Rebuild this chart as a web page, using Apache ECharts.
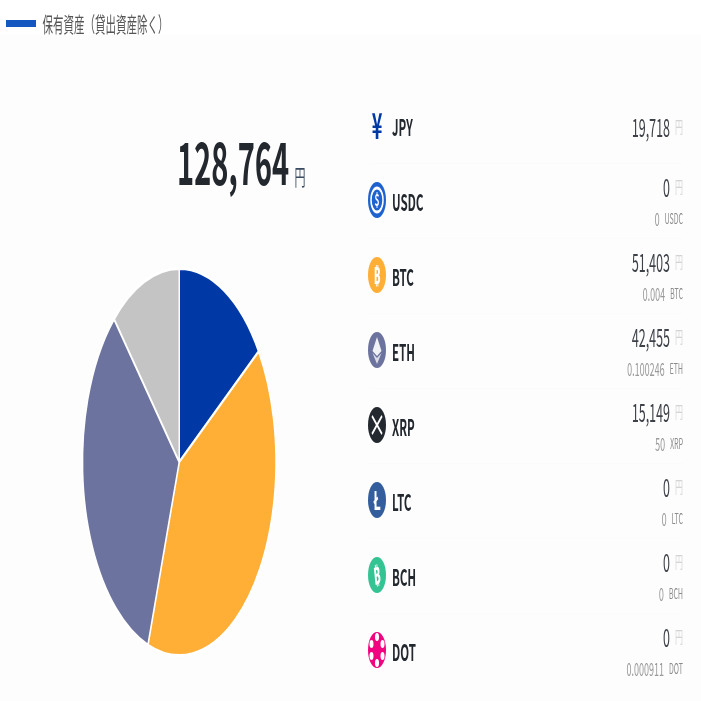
<!DOCTYPE html>
<html><head><meta charset="utf-8">
<style>html,body{margin:0;padding:0;background:#fdfdfd;overflow:hidden;width:701px;height:701px}
#c{width:1402px;height:701px;transform:scale(.5,1);transform-origin:0 0}</style>
<script src="https://cdn.jsdelivr.net/npm/echarts@6/dist/echarts.min.js"></script>
</head><body><div id="c"></div>
<script>
const legendLabel = '保有資産（貸出資産除く）';
const totalLabel = '128,764';
const yenUnit = '円';
const symbols = ['JPY','USDC','BTC','ETH','XRP','LTC','BCH','DOT'];
const jpyValues = [19718,0,51403,42455,15149,0,0,0];
const amountLabels = [null,'0','0.004','0.100246','50','0','0','0.000911'];
const iconColors = ['#0039A6','#1E62D0','#FFAE36','#6C739E','#23292F','#345D9D','#34C393','#F0047F'];
const sliceNames = ['JPY','BTC','ETH','XRP'];
const sliceValues = [19718,51403,42455,15149];
const sliceColors = ['#0039A6','#FFAE36','#6C739E','#C4C4C4'];

const FONT = '"Noto Sans CJK JP","Noto Sans",sans-serif';
const rowY = i => 127 + 75 * i;
const el = [];
const text = (x,y,t,size,color,weight,align='left',vert='middle') =>
  ({type:'text',x,y,silent:true,style:{text:t,fill:color,font:`${weight} ${size}px ${FONT}`,textAlign:align,textVerticalAlign:vert}});

el.push({type:'rect',shape:{x:0,y:0,width:1402,height:35},style:{fill:'#fff'},silent:true});
el.push({type:'rect',shape:{x:12,y:20,width:60,height:7},style:{fill:'#1557C0'},silent:true});
el.push(text(85,24,legendLabel,21,'#555',400));
el.push(text(354,163,totalLabel,58,'#23282E',700));
el.push(text(589,177,yenUnit,22,'#3A4A60',400));

function icon(i,cx,cy){
  const c = iconColors[i], s = symbols[i], out=[];
  if(s==='JPY'){ out.push(text(cx,cy-2,'¥',36,c,700,'center')); return out; }
  out.push({type:'circle',shape:{cx,cy,r:18},style:{fill:c},silent:true});
  if(s==='USDC'){
    out.push({type:'circle',shape:{cx,cy,r:12},style:{fill:'none',stroke:'#fff',lineWidth:3},silent:true});
    out.push(text(cx,cy,'$',17,'#fff',700,'center'));
  } else if(s==='BTC'){
    out.push(text(cx,cy,'₿',24,'#fff',700,'center'));
  } else if(s==='BCH'){
    out.push({...text(0,0,'₿',24,'#fff',700,'center'),x:cx,y:cy,rotation:0.2});
  } else if(s==='ETH'){
    out.push({type:'polygon',shape:{points:[[cx,cy-13],[cx+9,cy+1],[cx,cy+6],[cx-9,cy+1]]},style:{fill:'#fff',opacity:.9},silent:true});
    out.push({type:'polygon',shape:{points:[[cx,cy+8],[cx+9,cy+3],[cx,cy+14],[cx-9,cy+3]]},style:{fill:'#fff',opacity:.75},silent:true});
  } else if(s==='XRP'){
    out.push({type:'polyline',shape:{points:[[cx-10,cy-9],[cx,cy],[cx+10,cy-9]]},style:{fill:'none',stroke:'#fff',lineWidth:3},silent:true});
    out.push({type:'polyline',shape:{points:[[cx-10,cy+9],[cx,cy],[cx+10,cy+9]]},style:{fill:'none',stroke:'#fff',lineWidth:3},silent:true});
  } else if(s==='LTC'){
    out.push(text(cx,cy,'Ł',26,'#fff',700,'center'));
  } else if(s==='DOT'){
    out.push({type:'circle',shape:{cx,cy,r:9},style:{fill:'#F0047F'},silent:true});
    [[0,-13],[11,-6],[11,6],[0,13],[-11,6],[-11,-6]].forEach(p=>
      out.push({type:'circle',shape:{cx:cx+p[0],cy:cy+p[1],r:4},style:{fill:'#fff'},silent:true}));
  }
  return out;
}

symbols.forEach((s,i)=>{
  const y = rowY(i);
  el.push(...icon(i,754,i===0?y:y-2));
  el.push(text(784,y,s,23,'#23282E',700));
  const hasSub = amountLabels[i]!==null;
  const vy = hasSub ? y-15 : y;
  el.push({type:'text',x:1366,y:vy,silent:true,style:{
    text:`{n|${jpyValues[i].toLocaleString('en-US')}}   {u|${yenUnit}}`,
    textAlign:'right',textVerticalAlign:'middle',
    rich:{n:{font:`400 25px ${FONT}`,fill:'#3E4248'},u:{font:`400 16px ${FONT}`,fill:'#D4D4D4'}}
  }});
  if(hasSub) el.push({type:'text',x:1366,y:y+17,silent:true,style:{
    text:`{n|${amountLabels[i]}}   {u|${s}}`,
    textAlign:'right',textVerticalAlign:'middle',
    rich:{n:{font:`400 18px ${FONT}`,fill:'#9A9A9A'},u:{font:`400 14px ${FONT}`,fill:'#8A8A8A'}}
  }});
  if(i<7) el.push({type:'rect',shape:{x:740,y:y+36,width:626,height:1},style:{fill:'#FBFBFB'},silent:true});
});

const chart = echarts.init(document.getElementById('c'),null,{width:1402,height:701});
chart.setOption({
  animation:false,
  backgroundColor:'transparent',
  graphic:{elements:el},
  series:[{
    type:'pie',center:[358.5,462],radius:[0,193.5],startAngle:90,clockwise:true,
    label:{show:false},labelLine:{show:false},silent:true,
    itemStyle:{borderColor:'#fff',borderWidth:3},
    data:sliceNames.map((n,i)=>({name:n,value:sliceValues[i],itemStyle:{color:sliceColors[i]}}))
  }]
});
</script></body></html>
